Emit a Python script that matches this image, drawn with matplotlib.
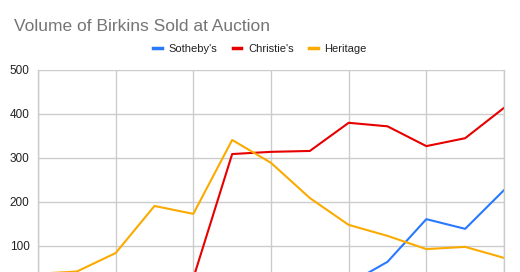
import matplotlib.pyplot as plt

plt.rcParams["font.family"] = ["Liberation Sans", "DejaVu Sans"]

years = list(range(2010, 2023))
sothebys = [3, 4, 5, 5, 6, 8, 9, 10, 14, 64, 161, 139, 227]
christies = [4, 6, 8, 12, 27, 309, 314, 316, 380, 372, 327, 345, 414]
heritage = [37, 42, 84, 191, 173, 341, 289, 209, 148, 123, 93, 98, 73]

series = [("Sotheby's", sothebys, "#2979ff"),
          ("Christie's", christies, "#e60000"),
          ("Heritage", heritage, "#fbab00")]

fig = plt.figure(figsize=(5.2, 2.72), dpi=100)
ax = fig.add_axes([38 / 520, -18 / 272, 466 / 520, 220 / 272])

for name, vals, color in series:
    ax.plot(years, vals, color=color, linewidth=1.5, label=name)

ax.set_xlim(years[0], years[-1])
ax.set_ylim(0, 500)
# the 0 row sits below the visible area in the reference
ax.set_yticks(range(100, 501, 100))
ax.set_xticks(years[::2])
ax.tick_params(axis="x", labelbottom=False)
ax.tick_params(length=0, labelsize=8.5, colors="#222222", pad=6)
ax.grid(True, color="#cccccc", linewidth=1)
ax.set_axisbelow(True)
for side in ["top", "bottom"]:
    ax.spines[side].set_visible(False)
for side in ["left", "right"]:
    ax.spines[side].set_color("#cccccc")
    ax.spines[side].set_linewidth(1)

fig.text(14 / 520, 1 - 31 / 272, "Volume of Birkins Sold at Auction",
         fontsize=12.5, color="#757575", ha="left", va="baseline")

fig.legend(loc="center", bbox_to_anchor=(260 / 520, 1 - 49 / 272), ncol=3,
           frameon=False, fontsize=8, handlelength=0.8, handletextpad=0.6,
           columnspacing=1.35, labelcolor="#222222")
for line in fig.legends[0].get_lines():
    line.set_linewidth(2.5)

fig.savefig("out.png", dpi=100)
